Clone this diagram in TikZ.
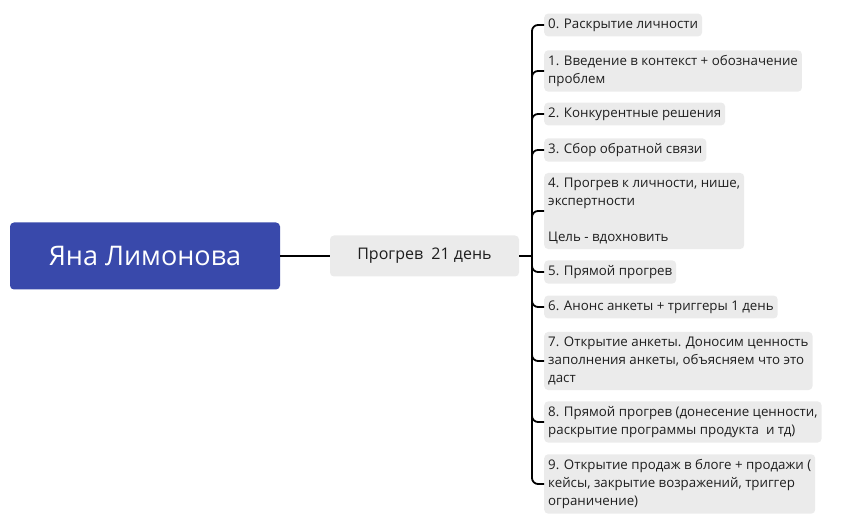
\documentclass[tikz,border=0pt]{standalone}
\usepackage{fontspec}
\setmainfont{Open Sans}
\usetikzlibrary{positioning}
\definecolor{rootblue}{RGB}{57, 73, 171}
\definecolor{boxgray}{RGB}{235, 235, 235}
\definecolor{fontgray}{RGB}{30, 30, 30}
\begin{document}
\begin{tikzpicture}[x=1pt, y=1pt,
			rootbox/.style={draw=none, fill=rootblue, rounded corners=4pt, text=white, minimum width=270pt, minimum height=67pt, font=\fontsize{27}{32}\selectfont},
			midbox/.style={draw=none, fill=boxgray, rounded corners=4pt, text=fontgray, minimum width=189pt, minimum height=41pt, font=\fontsize{16}{19}\selectfont},
			item/.style={draw=none, fill=boxgray, rounded corners=4pt, text=fontgray, anchor=west, align=left, inner xsep=4pt, inner ysep=5pt, font=\fontsize{13.3}{18}\selectfont},
			branch/.style={line width=1.8pt, color=black, rounded corners=6pt}
			]
			\useasboundingbox (0,0) rectangle (854,529);
			
			\node[rootbox](root) at (145,273) {Яна Лимонова};
			\node[midbox](warm) at (424.5,273) {Прогрев~ 21 день};
			\coordinate (sp) at (532,273);
			
			\node[item](c0) at (544,504) {0. Раскрытие личности};
			\node[item](c1) at (544,458) {1. Введение в контекст + обозначение\\проблем};
			\node[item](c2) at (544,415) {2. Конкурентные решения};
			\node[item](c3) at (544,379) {3. Сбор обратной связи};
			\node[item](c4) at (544,318) {4. Прогрев к личности, нише,\\экспертности\\[18pt]Цель - вдохновить};
			\node[item](c5) at (544,257) {5. Прямой прогрев};
			\node[item](c6) at (544,222) {6. Анонс анкеты + триггеры 1 день};
			\node[item](c7) at (544,168) {7. Открытие анкеты. Доносим ценность\\заполнения анкеты, объясняем что это\\даст};
			\node[item](c8) at (544,107) {8. Прямой прогрев (донесение ценности,\\раскрытие программы продукта~ и тд)};
			\node[item](c9) at (544,45) {9. Открытие продаж в блоге + продажи (\\кейсы, закрытие возражений, триггер\\ограничение)};
			
			\draw [branch] (root) to (warm);
			\draw [branch] (warm) to (sp);
			\foreach \c in {c0,c1,c2,c3,c4,c5,c6,c7,c8,c9}
				\draw [branch] (sp) |- (\c.west);
			
\end{tikzpicture}
\end{document}
